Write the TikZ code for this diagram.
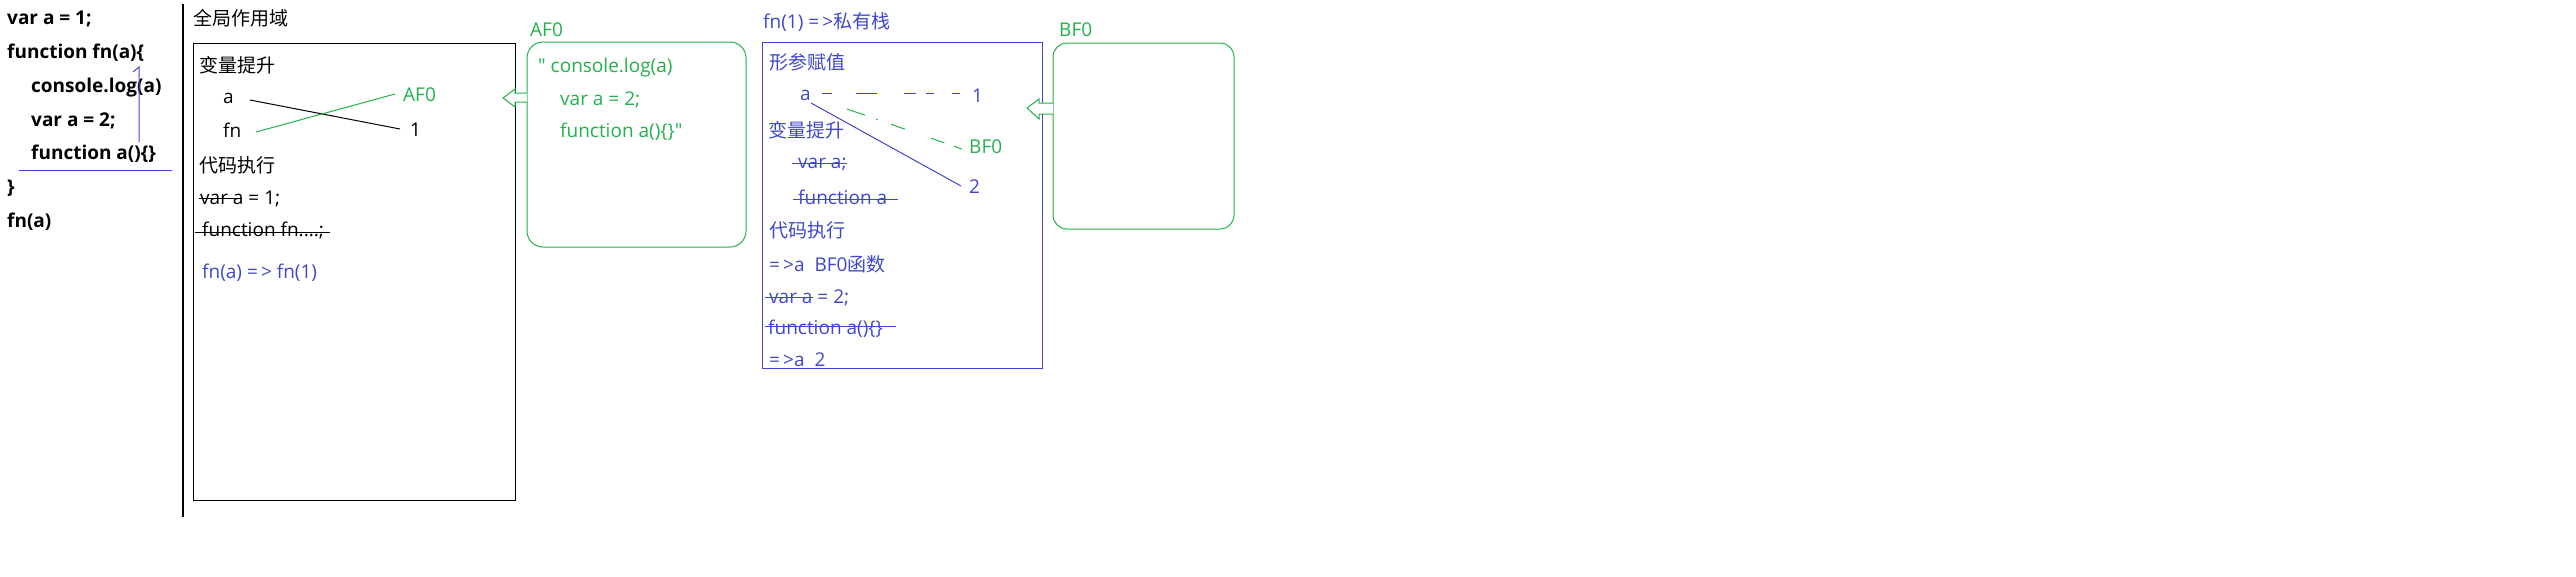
\documentclass[tikz,border=0pt]{standalone}
\usepackage{fontspec}
\setmainfont{Open Sans}
\newfontfamily\qf{Open Sans}
\newfontfamily\cjk{Noto Sans CJK SC}
\usetikzlibrary{calc}
\definecolor{pgreen}{HTML}{22B14C}
\definecolor{pblue}{HTML}{3F48CC}
\begin{document}
\begin{tikzpicture}[x=1pt,y=-1pt,
  txt/.style={anchor=base west,inner sep=0pt,font=\fontsize{19}{23}\selectfont},
  code/.style={txt,font=\fontsize{19}{23}\selectfont\bfseries},
  gtxt/.style={txt,text=pgreen},
  btxt/.style={txt,text=pblue},
  blk/.style={draw=black,line width=1pt},
  gline/.style={draw=pgreen,line width=1pt},
  bline/.style={draw=pblue,line width=1pt},
  rbox/.style={draw=pgreen,line width=1pt,rounded corners=16pt},
  barrow/.style={draw=pgreen,fill=white,line width=1pt,line join=miter}]
\useasboundingbox (0,0) rectangle (2576,576);
\fill[white] (0,0) rectangle (2576,576);

% left code
\node[code] (l1) at (7,24) {var a = 1;};
\node[code] (l2) at (7,58) {function fn(a)\{};
\node[code] (l3) at (31,92) {console.log(a)};
\node[code] (l4) at (31,126) {var a = 2;};
\node[code] (l5) at (31,159) {function a()\{\}};
\node[code] (l6) at (7,193) {\}};
\node[code] (l7) at (7,227) {fn(a)};
\coordinate (u1) at (19,170);
\coordinate (u2) at (172,170);
\draw[bline] (u1) -- (u2);
\coordinate (v1) at (139,142);
\coordinate (v2) at (139,67);
\coordinate (v3) at (133,72);
\draw[bline] (v1) -- (v2) -- (v3);
\coordinate (d1) at (183,4);
\coordinate (d2) at (183,517);
\draw[black,line width=1.3pt] (d1) -- (d2);

% global scope
\node[txt] (gt) at (193,25) {\cjk 全局作用域};
\draw[blk] (193,43) rectangle (515,500);
\node[txt] (gh) at (199,72) {\cjk 变量提升};
\node[txt] (ga) at (223,103) {a};
\node[txt] (gfn) at (223,137) {fn};
\node[gtxt] (gaf) at (403,101) {AF0};
\node[txt] (g1) at (410,136) {1};
\coordinate (ga-r) at (250,100);
\coordinate (g1-l) at (400,129);
\coordinate (gfn-r) at (256,132);
\coordinate (gaf-l) at (395,94);
\draw[blk] (ga-r) -- (g1-l);
\draw[gline] (gfn-r) -- (gaf-l);
\node[txt] (ge) at (199,172) {\cjk 代码执行};
\node[txt] (gv) at (200,204) {var a = 1;};
\draw[blk] (199,198) -- (242,198);
\node[txt] (gf) at (202,236) {function fn....;};
\draw[blk] (195,232) -- (330,232);
\node[btxt] (gc) at (202,278) {fn(a) =\,> fn(1)};

% AF0
\node[gtxt] (af) at (530,36) {AF0};
\draw[rbox] (527,42) rectangle (746,247);
\node[gtxt] (af1) at (538,72) {\qf " console.log(a)};
\node[gtxt] (af2) at (560,105) {var a = 2;};
\node[gtxt] (af3) at (560,137) {\qf function a()\{\}"};
\draw[barrow] (527,93) -- (515,93) -- (515,89) -- (503,98) -- (515,107) -- (515,102) -- (527,102);

% fn(1)
\node[btxt] (ft) at (763,28) {fn(1) =\,>{\cjk 私有栈}};
\draw[bline] (762,42) rectangle (1042,368);
\node[btxt] (fh) at (769,69) {\cjk 形参赋值};
\node[btxt] (fa) at (800,100) {a};
\node[btxt] (f1) at (972,102) {1};
\node[gtxt] (fbf) at (969,153) {BF0};
\node[btxt] (f2) at (969,193) {2};
\coordinate (fa-r1) at (822,93);
\coordinate (f1-l) at (960,93);
\coordinate (fa-r2) at (811,103);
\coordinate (f2-l) at (961,186);
\coordinate (fa-r3) at (847,109);
\coordinate (fbf-l) at (962,149);
\draw[bline,dash pattern=on 10pt off 24pt on 21pt off 27pt on 12pt off 10pt on 8pt off 18pt on 8pt off 30pt] (fa-r1) -- (f1-l);
\draw[bline] (fa-r2) -- (f2-l);
\draw[gline,dash pattern=on 19pt off 12pt on 1.5pt off 14pt on 15pt off 27.5pt on 14pt off 10.5pt on 9.5pt off 30pt] (fa-r3) -- (fbf-l);
\node[btxt] (fv) at (768,137) {\cjk 变量提升};
\node[btxt] (fva) at (798,168) {var a;};
\draw[bline] (792,163) -- (847,163);
\node[btxt] (ffa) at (798,204) {function a};
\draw[bline] (793,199) -- (898,199);
\node[btxt] (fe) at (769,237) {\cjk 代码执行};
\node[btxt] (fr1) at (769,271) {=\,>a\ \ BF0{\cjk 函数}};
\node[btxt] (fv2) at (769,303) {var a = 2;};
\draw[bline] (765,297) -- (813,297);
\node[btxt] (ff2) at (768,334) {function a()\{\}};
\draw[bline] (765,326) -- (896,326);
\node[btxt] (fr2) at (769,366) {=\,>a\ \ 2};

% BF0
\node[gtxt] (bf) at (1059,36) {BF0};
\draw[rbox,rounded corners=14pt] (1053,43) rectangle (1234,229);
\draw[barrow] (1053,103) -- (1039,103) -- (1039,99) -- (1027,108) -- (1039,119) -- (1039,114) -- (1053,114);
\end{tikzpicture}
\end{document}
